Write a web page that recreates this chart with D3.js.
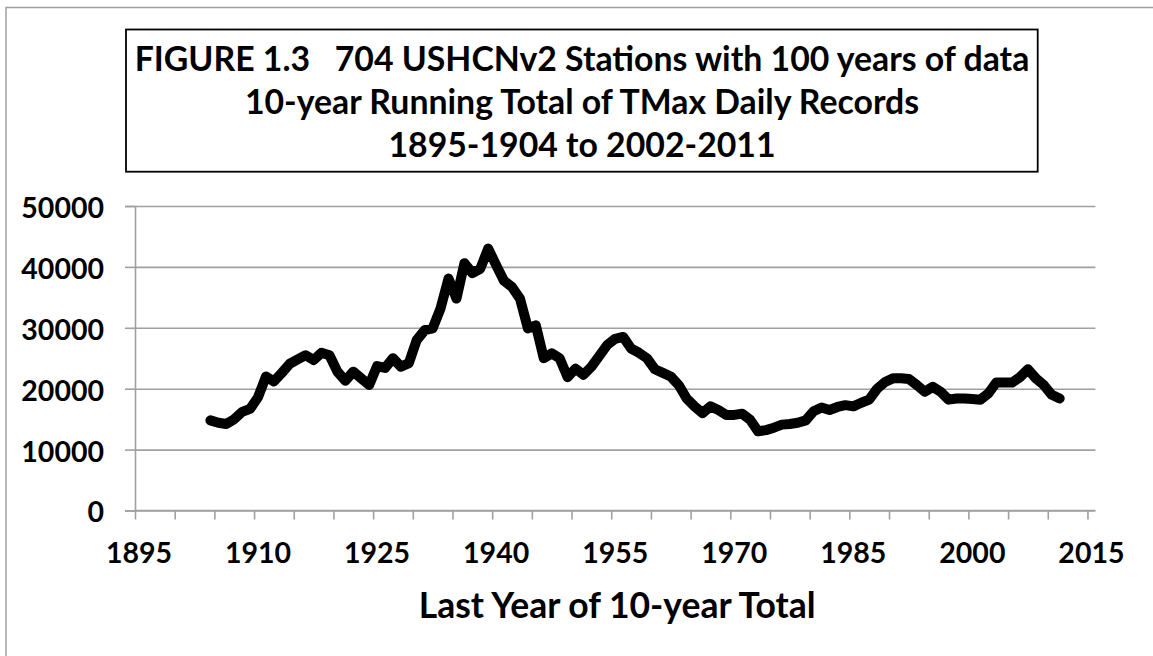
<!DOCTYPE html>
<html>
<head>
<meta charset="utf-8">
<script src="https://cdn.jsdelivr.net/npm/d3@7"></script>
<style>
  body { margin: 0; background: #fff; }
  text { font-family: Lato, Carlito, Calibri, sans-serif; font-weight: bold; fill: #000; }
</style>
</head>
<body>
<script>
// last year of each 10-year window
var years = [
  1904, 1905, 1906, 1907, 1908, 1909,
  1910, 1911, 1912, 1913, 1914, 1915, 1916, 1917, 1918, 1919,
  1920, 1921, 1922, 1923, 1924, 1925, 1926, 1927, 1928, 1929,
  1930, 1931, 1932, 1933, 1934, 1935, 1936, 1937, 1938, 1939,
  1940, 1941, 1942, 1943, 1944, 1945, 1946, 1947, 1948, 1949,
  1950, 1951, 1952, 1953, 1954, 1955, 1956, 1957, 1958, 1959,
  1960, 1961, 1962, 1963, 1964, 1965, 1966, 1967, 1968, 1969,
  1970, 1971, 1972, 1973, 1974, 1975, 1976, 1977, 1978, 1979,
  1980, 1981, 1982, 1983, 1984, 1985, 1986, 1987, 1988, 1989,
  1990, 1991, 1992, 1993, 1994, 1995, 1996, 1997, 1998, 1999,
  2000, 2001, 2002, 2003, 2004, 2005, 2006, 2007, 2008, 2009,
  2010, 2011
];
// 10-year running total of TMax daily records
var records = [
  14800, 14400, 14200, 15000, 16200, 16700,
  18600, 22000, 21200, 22600, 24100, 24800, 25500, 24700, 25900, 25500,
  22800, 21300, 22800, 21700, 20600, 23700, 23400, 25000, 23600, 24200,
  28000, 29600, 29900, 33200, 38100, 34800, 40600, 39000, 39700, 43000,
  40300, 37700, 36700, 34800, 29900, 30400, 25000, 25800, 25000, 21900,
  23300, 22300, 23600, 25400, 27200, 28200, 28500, 26600, 25900, 25000,
  23200, 22600, 22000, 20600, 18400, 17100, 16000, 17100, 16500, 15700,
  15700, 15900, 14900, 13000, 13200, 13600, 14100, 14200, 14400, 14800,
  16300, 16900, 16500, 17000, 17300, 17100, 17700, 18200, 20000, 21100,
  21700, 21700, 21600, 20600, 19500, 20300, 19500, 18200, 18400, 18400,
  18300, 18200, 19200, 21000, 21000, 21000, 21900, 23200, 21700, 20600,
  19000, 18400
];
var yTicks = [0, 10000, 20000, 30000, 40000, 50000];
var xTickYears = [1895, 1900, 1905, 1910, 1915, 1920, 1925, 1930, 1935, 1940, 1945, 1950, 1955,
                  1960, 1965, 1970, 1975, 1980, 1985, 1990, 1995, 2000, 2005, 2010, 2015];
var xLabelYears = [1895, 1910, 1925, 1940, 1955, 1970, 1985, 2000, 2015];
var titleLines = [
  "FIGURE 1.3   704 USHCNv2 Stations with 100 years of data",
  "10-year Running Total of TMax Daily Records",
  "1895-1904 to 2002-2011"
];
var xTitle = "Last Year of 10-year Total";

var W = 1153, H = 656;
var plot = { left: 135, right: 1095.4, top: 206, bottom: 510.5 };

var svg = d3.select('body').append('svg')
    .attr('width', W)
    .attr('height', H);

// outer chart border (only top/left visible)
svg.append('rect')
    .attr('x', 6).attr('y', 7.5)
    .attr('width', W).attr('height', H)
    .attr('fill', 'none')
    .attr('stroke', '#a0a0a0')
    .attr('stroke-width', 1.5);

// category axis: one slot per year, 1895..2015
var x = d3.scaleLinear().domain([1895, 2016]).range([plot.left, plot.right]);
var y = d3.scaleLinear().domain([0, 50000]).range([plot.bottom, plot.top]);

// gridlines
svg.append('g')
    .attr('transform', 'translate(' + plot.left + ',0)')
    .call(d3.axisLeft(y).tickValues(yTicks).tickSize(-(plot.right - plot.left)).tickFormat(''))
    .call(function (g) {
        g.select('.domain').remove();
        g.selectAll('line').attr('stroke', '#a0a0a0').attr('stroke-width', 1.6);
    });

// y axis
svg.append('g')
    .attr('transform', 'translate(' + plot.left + ',0)')
    .call(d3.axisLeft(y).tickValues(yTicks).tickSize(10).tickPadding(21).tickFormat(d3.format('d')))
    .call(function (g) {
        g.select('.domain').attr('stroke', '#a0a0a0').attr('stroke-width', 1.6);
        g.selectAll('line').attr('stroke', '#a0a0a0').attr('stroke-width', 1.6);
        g.selectAll('text')
            .attr('font-family', null).attr('font-size', null)
            .style('font-size', '28.5px')
            .attr('dy', '0.4em');
    });

// x axis (ticks between categories)
svg.append('g')
    .attr('transform', 'translate(0,' + plot.bottom + ')')
    .call(d3.axisBottom(x).tickValues(xTickYears).tickSize(9).tickSizeOuter(0).tickFormat(''))
    .call(function (g) {
        g.select('.domain').attr('stroke', '#a0a0a0').attr('stroke-width', 1.6)
            .attr('d', 'M' + plot.left + ',0H' + plot.right);
        g.selectAll('line').attr('stroke', '#a0a0a0').attr('stroke-width', 1.6);
    });

// x labels centred on their category
svg.append('g').selectAll('text')
    .data(xLabelYears)
    .enter().append('text')
        .attr('x', function (d) { return x(d + 0.5); })
        .attr('y', 563)
        .attr('text-anchor', 'middle')
        .style('font-size', '28.5px')
        .text(function (d) { return d; });

// axis title
svg.append('text')
    .attr('x', (plot.left + plot.right) / 2 + 2)
    .attr('y', 618)
    .attr('text-anchor', 'middle')
    .style('font-size', '35.5px')
    .text(xTitle);

// the series
var line = d3.line()
    .x(function (d) { return x(d.year + 0.5); })
    .y(function (d) { return y(d.value); });

svg.append('path')
    .datum(years.map(function (yr, i) { return { year: yr, value: records[i] }; }))
    .attr('d', line)
    .attr('fill', 'none')
    .attr('stroke', '#000')
    .attr('stroke-width', 10)
    .attr('stroke-linejoin', 'round')
    .attr('stroke-linecap', 'round');

// title box
svg.append('rect')
    .attr('x', 126).attr('y', 29.5)
    .attr('width', 1037.7 - 126).attr('height', 171.7 - 29.5)
    .attr('fill', '#fff')
    .attr('stroke', '#000')
    .attr('stroke-width', 1.8);

svg.append('g').selectAll('text')
    .data(titleLines)
    .enter().append('text')
        .attr('x', 582)
        .attr('y', function (d, i) { return 71 + i * 43; })
        .attr('text-anchor', 'middle')
        .style('font-size', '33.8px')
        .style('white-space', 'pre')
        .text(function (d) { return d; });
</script>
</body>
</html>
